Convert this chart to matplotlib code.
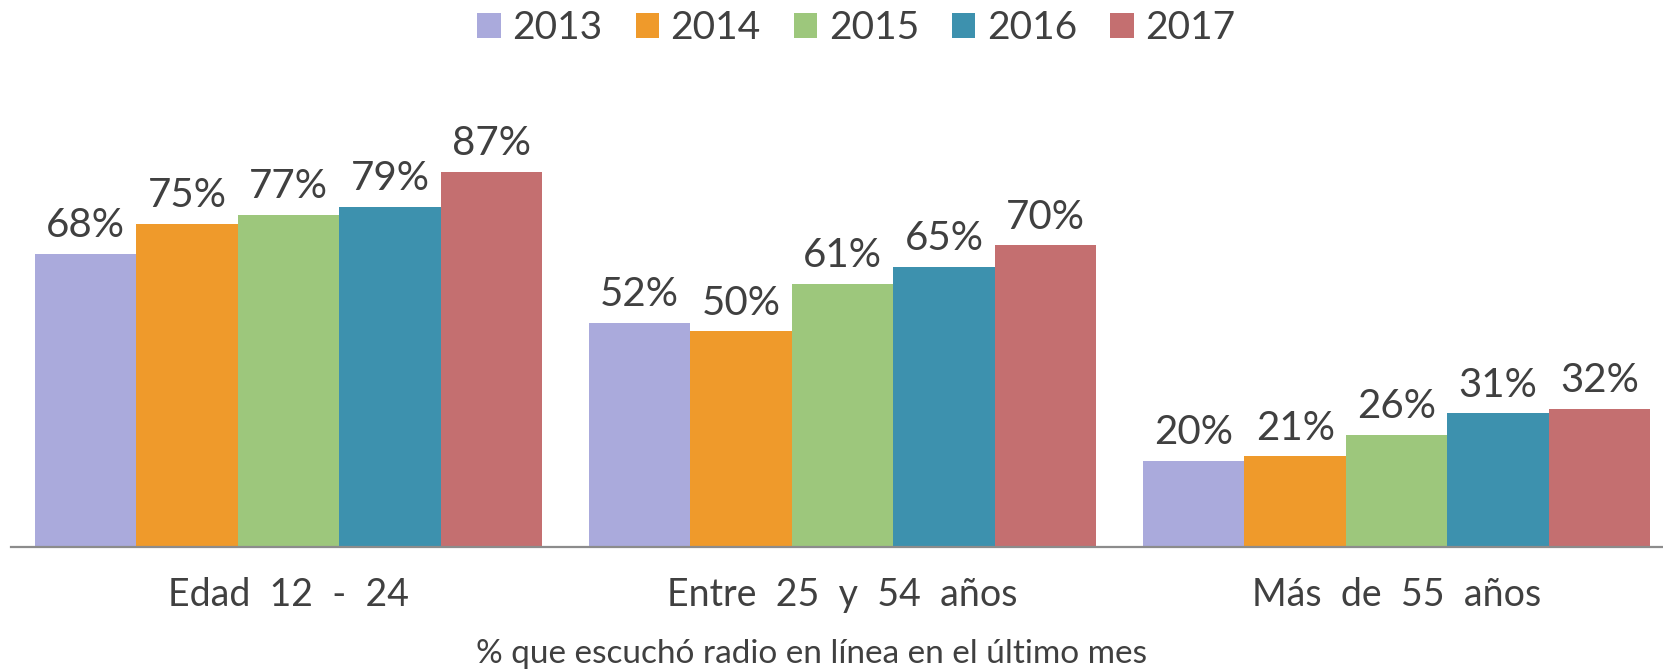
import numpy as np
import matplotlib
matplotlib.use("Agg")
from matplotlib import pyplot as plt

# dati
grupos = ["Edad  12  -  24", "Entre  25  y  54  años", "Más  de  55  años"]
anios = ["2013", "2014", "2015", "2016", "2017"]
v2013 = [68, 52, 20]
v2014 = [75, 50, 21]
v2015 = [77, 61, 26]
v2016 = [79, 65, 31]
v2017 = [87, 70, 32]
colores = ["#AAAADC", "#EF9A2B", "#9DC77C", "#3D91AE", "#C46F70"]
nota = "% que escuchó radio en línea en el último mes"

plt.rcParams['font.family'] = ['Lato', 'DejaVu Sans']
gris = "#404040"

fig = plt.figure(figsize=(16.63, 6.71), dpi=100)
ax = fig.add_axes([0.0066, 0.185, 0.9934, 0.642])

series = [v2013, v2014, v2015, v2016, v2017]
x = np.arange(len(grupos))
ancho_grupo = 0.915
w = ancho_grupo / len(series)

for i, (vals, anio, col) in enumerate(zip(series, anios, colores)):
    pos = x - ancho_grupo / 2 + w * (i + 0.5)
    barras = ax.bar(pos, vals, width=w, color=col, label=anio, linewidth=0)
    ax.bar_label(barras, labels=[f"{v}%" for v in vals], padding=7,
                 fontsize=29, color=gris)

ax.set_xlim(-0.501, 2.481)
ax.set_ylim(0, 100)
ax.set_yticks([])
ax.set_xticks(x)
ax.set_xticklabels(grupos, fontsize=27, color=gris)
ax.tick_params(axis='x', length=0, pad=22)
for s in ["top", "right", "left"]:
    ax.spines[s].set_visible(False)
ax.spines["bottom"].set_color("#8C8C8C")
ax.spines["bottom"].set_linewidth(1.6)

fig.legend(loc="center", bbox_to_anchor=(0.515, 0.958), ncol=5, frameon=False,
           fontsize=28, handlelength=0.6, handleheight=0.6, handletextpad=0.3,
           columnspacing=0.85, labelcolor=gris)

fig.text(0.488, 0.026, nota, ha="center", va="center", fontsize=24, color=gris)

fig.savefig("out.png", dpi=100)
